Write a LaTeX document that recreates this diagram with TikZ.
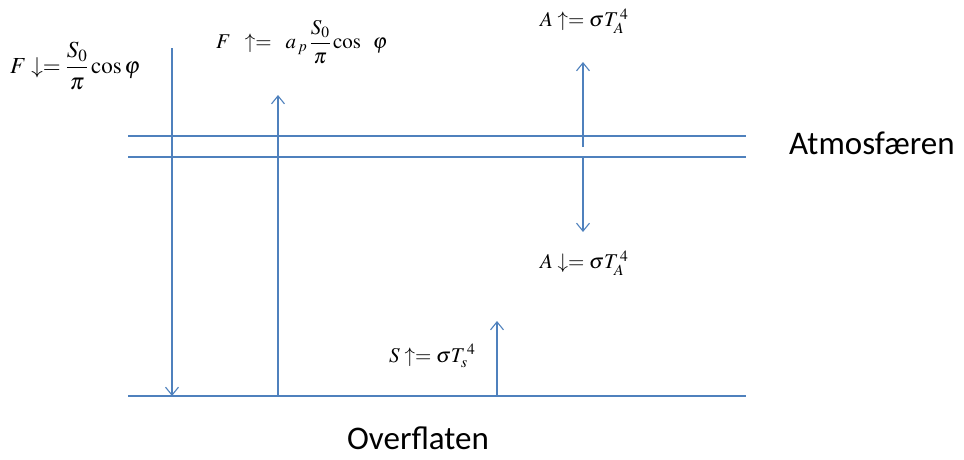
\documentclass[tikz,border=0pt]{standalone}
\usepackage{amsmath}
\usepackage{mathptmx}
\usepackage[no-math]{fontspec}
\newfontfamily\labelfont{Carlito}
\usetikzlibrary{arrows.meta}
\definecolor{lineblue}{HTML}{4F81BD}
\tikzset{
  flux/.style={draw=lineblue, line width=1.2pt, -{Straight Barb[length=8pt,width=13pt,line width=1.1pt]}},
  layer/.style={draw=lineblue, line width=1.4pt},
  eqlabel/.style={inner sep=0pt, font=\fontsize{21}{25}\selectfont},
  layertitle/.style={inner sep=0pt, font=\labelfont\fontsize{33}{39}\selectfont}
}
\begin{document}
\begin{tikzpicture}[x=1pt,y=-1pt]
\useasboundingbox (0,0) rectangle (964,459);
% layers
\coordinate (t1) at (128,136); \coordinate (t2) at (746,136);
\coordinate (m1) at (128,157); \coordinate (m2) at (746,157);
\coordinate (g1) at (128,396); \coordinate (g2) at (746,396);
\draw[layer] (t1) -- (t2);
\draw[layer] (m1) -- (m2);
\draw[layer] (g1) -- (g2);
% fluxes
\coordinate (fdA) at (172,48);  \coordinate (fdB) at (172,396);
\coordinate (fuA) at (278,396); \coordinate (fuB) at (278,95);
\coordinate (auA) at (583,147); \coordinate (auB) at (583,62);
\coordinate (adA) at (583,157); \coordinate (adB) at (583,232);
\coordinate (suA) at (497,396); \coordinate (suB) at (497,321);
\draw[flux] (fdA) -- (fdB);
\draw[flux] (fuA) -- (fuB);
\draw[flux] (auA) -- (auB);
\draw[flux] (adA) -- (adB);
\draw[flux] (suA) -- (suB);
% labels
\node[eqlabel,anchor=west,font=\fontsize{23}{27}\selectfont] (lfd) at (10,66) {$F\downarrow=\dfrac{S_0}{\pi}\cos\varphi$};
\node[eqlabel,anchor=west] (lfu) at (216,42) {$F\;\;\uparrow=\;\;a_{\,p}\,\dfrac{S_0}{\pi}\cos\;\;\varphi$};
\node[eqlabel,anchor=west] (lau) at (540,21) {$A\uparrow=\sigma T_{A}^{\,4}$};
\node[eqlabel,anchor=west] (lad) at (540,263) {$A\downarrow=\sigma T_{A}^{\,4}$};
\node[eqlabel,anchor=west] (lsu) at (389,356) {$S\uparrow=\sigma T_{s}^{\,4}$};
\node[layertitle,anchor=west] (atm) at (789,143) {Atmosfæren};
\node[layertitle] (ovr) at (418,438) {Overflaten};
\end{tikzpicture}
\end{document}
